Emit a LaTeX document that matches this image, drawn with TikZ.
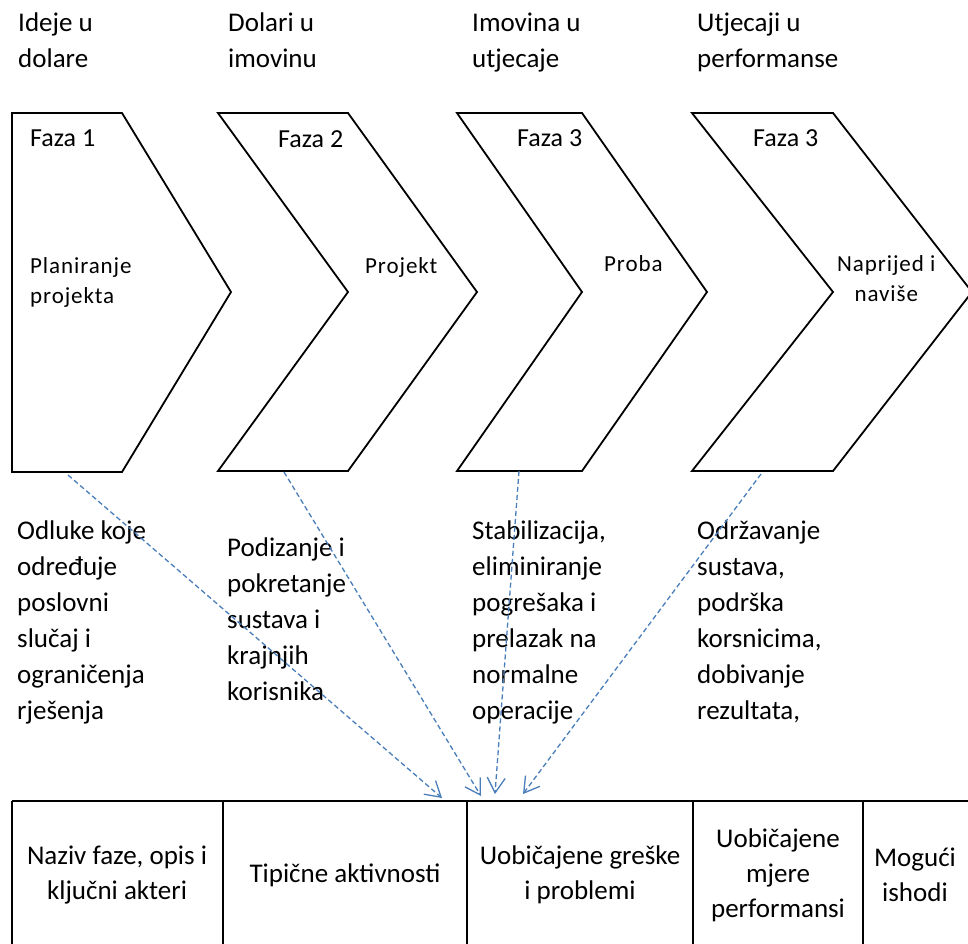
\documentclass[tikz,border=0pt]{standalone}
\usepackage{fontspec}
\setmainfont{Carlito}
\definecolor{linkblue}{RGB}{74,126,187}
\usetikzlibrary{arrows.meta,positioning}

\begin{document}
\begin{tikzpicture}[x=1pt,y=-1pt,
  txt/.style={anchor=north west,inner sep=0,align=left,font=\fontsize{27}{36}\selectfont},
  faza/.style={anchor=north west,inner sep=0,font=\fontsize{26}{30}\selectfont},
  naziv/.style={anchor=north west,inner sep=0,font=\fontsize{23}{30}\selectfont\addfontfeatures{LetterSpace=4}},
  cell/.style={align=center,inner sep=0,font=\fontsize{27}{35}\selectfont},
  veza/.style={draw=linkblue,line width=1.3pt,dash pattern=on 5pt off 3pt,-{Straight Barb[length=15pt,width=18pt]}}]
 \useasboundingbox (0,0) rectangle (968,943);
 % chevrons
 \draw[line width=1.8pt] (12,113) -- (122,113) -- (231,292) -- (122,472) -- (12,472) -- cycle;
 \foreach \a/\b/\c in {218/348/477, 457/582/707, 692/833/972} {
  \draw[line width=1.8pt] (\a,113) -- (\b,113) -- (\c,292) -- (\b,471) -- (\a,471) -- (\b,292) -- cycle;
 }
 % table
 \draw[line width=2pt] (12,801) -- (975,801);
 \foreach \x in {12,223,467,693,863} {
  \draw[line width=2pt] (\x,801) -- (\x,950);
 }
 % coordinates
 \coordinate (s1) at (68,475);
 \coordinate (s2) at (284,472);
 \coordinate (s3) at (519,471);
 \coordinate (s4) at (761,474);
 \coordinate (t1) at (442,798);
 \coordinate (t2) at (481,796);
 \coordinate (t3) at (495,794);
 \coordinate (t4) at (523,794);

 % labels
 \node[txt] (g1) at (18,13) {Ideje u\\dolare};
 \node[txt] (g2) at (228,13) {Dolari u\\imovinu};
 \node[txt] (g3) at (472,13) {Imovina u\\utjecaje};
 \node[txt] (g4) at (697,13) {Utjecaji u\\performanse};

 \node[faza] (f1) at (30,130) {Faza 1};
 \node[faza] (f2) at (278,130) {Faza 2};
 \node[faza] (f3) at (517,129) {Faza 3};
 \node[faza] (f4) at (753,129) {Faza 3};

 \node[naziv,align=left] (n1) at (30,257) {Planiranje\\projekta};
 \node[naziv] (n2) at (365,257) {Projekt};
 \node[naziv] (n3) at (604,255) {Proba};
 \node[naziv,align=center] (n4) at (837,255) {Naprijed i\\naviše};

 \node[txt] (o1) at (17,521) {Odluke koje\\određuje\\poslovni\\slučaj i\\ograničenja\\rješenja};
 \node[txt] (o2) at (227,538) {Podizanje i\\pokretanje\\sustava i\\krajnjih\\korisnika};
 \node[txt] (o3) at (472,521) {Stabilizacija,\\eliminiranje\\pogrešaka i\\prelazak na\\normalne\\operacije};
 \node[txt] (o4) at (697,521) {Održavanje\\sustava,\\podrška\\korsnicima,\\dobivanje\\rezultata,};

 \node[cell] (k1) at (117,875) {Naziv faze, opis i\\ključni akteri};
 \node[cell] (k2) at (345,875) {Tipične aktivnosti};
 \node[cell] (k3) at (580,875) {Uobičajene greške\\i problemi};
 \node[cell] (k4) at (778,875) {Uobičajene\\mjere\\performansi};
 \node[cell] (k5) at (915,875) {Mogući\\ishodi};

 % connectors
 \foreach \x in {1,...,4} {
  \draw[veza] (s\x) -- (t\x);
 }
\end{tikzpicture}
\end{document}
